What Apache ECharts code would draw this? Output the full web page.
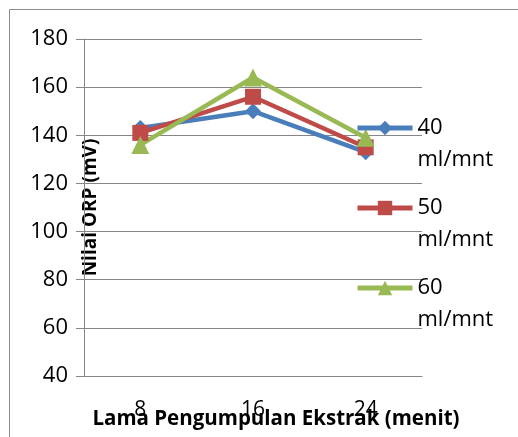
<!DOCTYPE html>
<html>
<head>
<meta charset="utf-8">
<script src="https://cdn.jsdelivr.net/npm/echarts@6/dist/echarts.min.js"></script>
<style>
  html, body { margin: 0; padding: 0; background: #fff; }
  #chart { width: 518px; height: 437px; }
</style>
</head>
<body>
<div id="chart"></div>
<script>
// kategori waktu (menit)
const categories = ['8', '16', '24'];
const seriesNames = ['40 ml/mnt', '50 ml/mnt', '60 ml/mnt'];
const orp40 = [143, 150, 133];
const orp50 = [141, 156, 135];
const orp60 = [136, 164, 139];

const colors = ['#4A7EBB', '#BE4B48', '#98B954'];
const font = 'Open Sans';

const chart = echarts.init(document.getElementById('chart'));

const option = {
  animation: false,
  color: colors,
  textStyle: { fontFamily: font },
  graphic: [{
    type: 'rect',
    shape: { x: 9.5, y: 9.5, width: 540, height: 460 },
    style: { fill: 'none', stroke: '#8c8c8c', lineWidth: 1 },
    silent: true
  }],
  grid: { left: 84, right: 96, top: 39, bottom: 61, outerBoundsMode: 'none', containLabel: false },
  legend: {
    orient: 'vertical',
    left: 355,
    top: 80,
    padding: 0,
    itemWidth: 55,
    itemHeight: 18,
    itemGap: -16,
    lineStyle: { width: 5 },
    formatter: name => '\n' + name.replace(' ', '\n'),
    textStyle: {
      fontFamily: font, fontSize: 22, color: '#000', lineHeight: 32
    },
    data: seriesNames
  },
  xAxis: {
    type: 'category',
    data: categories,
    name: 'Lama Pengumpulan Ekstrak (menit)',
    nameLocation: 'middle',
    nameGap: 33,
    nameMoveOverlap: false,
    nameTextStyle: { fontFamily: font, fontWeight: 'bold', fontSize: 20.5, color: '#000', padding: [0, 0, 0, 46] },
    axisLine: { lineStyle: { color: '#868686', width: 1 } },
    axisTick: { show: false },
    axisLabel: { fontFamily: font, fontSize: 21, color: '#000', margin: 24 }
  },
  yAxis: {
    type: 'value',
    min: 40,
    max: 180,
    interval: 20,
    name: 'Nilai ORP (mV)',
    nameLocation: 'middle',
    nameGap: -16,
    nameMoveOverlap: false,
    nameRotate: 90,
    nameTextStyle: { fontFamily: font, fontWeight: 'bold', fontSize: 19, color: '#000' },
    axisLine: { show: true, lineStyle: { color: '#868686', width: 1 } },
    axisTick: { show: true, length: 8, inside: false, lineStyle: { color: '#868686' } },
    splitLine: { lineStyle: { color: '#868686', width: 1 } },
    axisLabel: { fontFamily: font, fontSize: 22, color: '#000', margin: 16 }
  },
  series: [
    { name: seriesNames[0], type: 'line', data: orp40, symbol: 'diamond', symbolSize: 16, lineStyle: { width: 4.5 } },
    { name: seriesNames[1], type: 'line', data: orp50, symbol: 'rect', symbolSize: 16, lineStyle: { width: 4.5 } },
    { name: seriesNames[2], type: 'line', data: orp60, symbol: 'triangle', symbolSize: 18, lineStyle: { width: 4.5 } }
  ]
};

chart.setOption(option);
</script>
</body>
</html>
